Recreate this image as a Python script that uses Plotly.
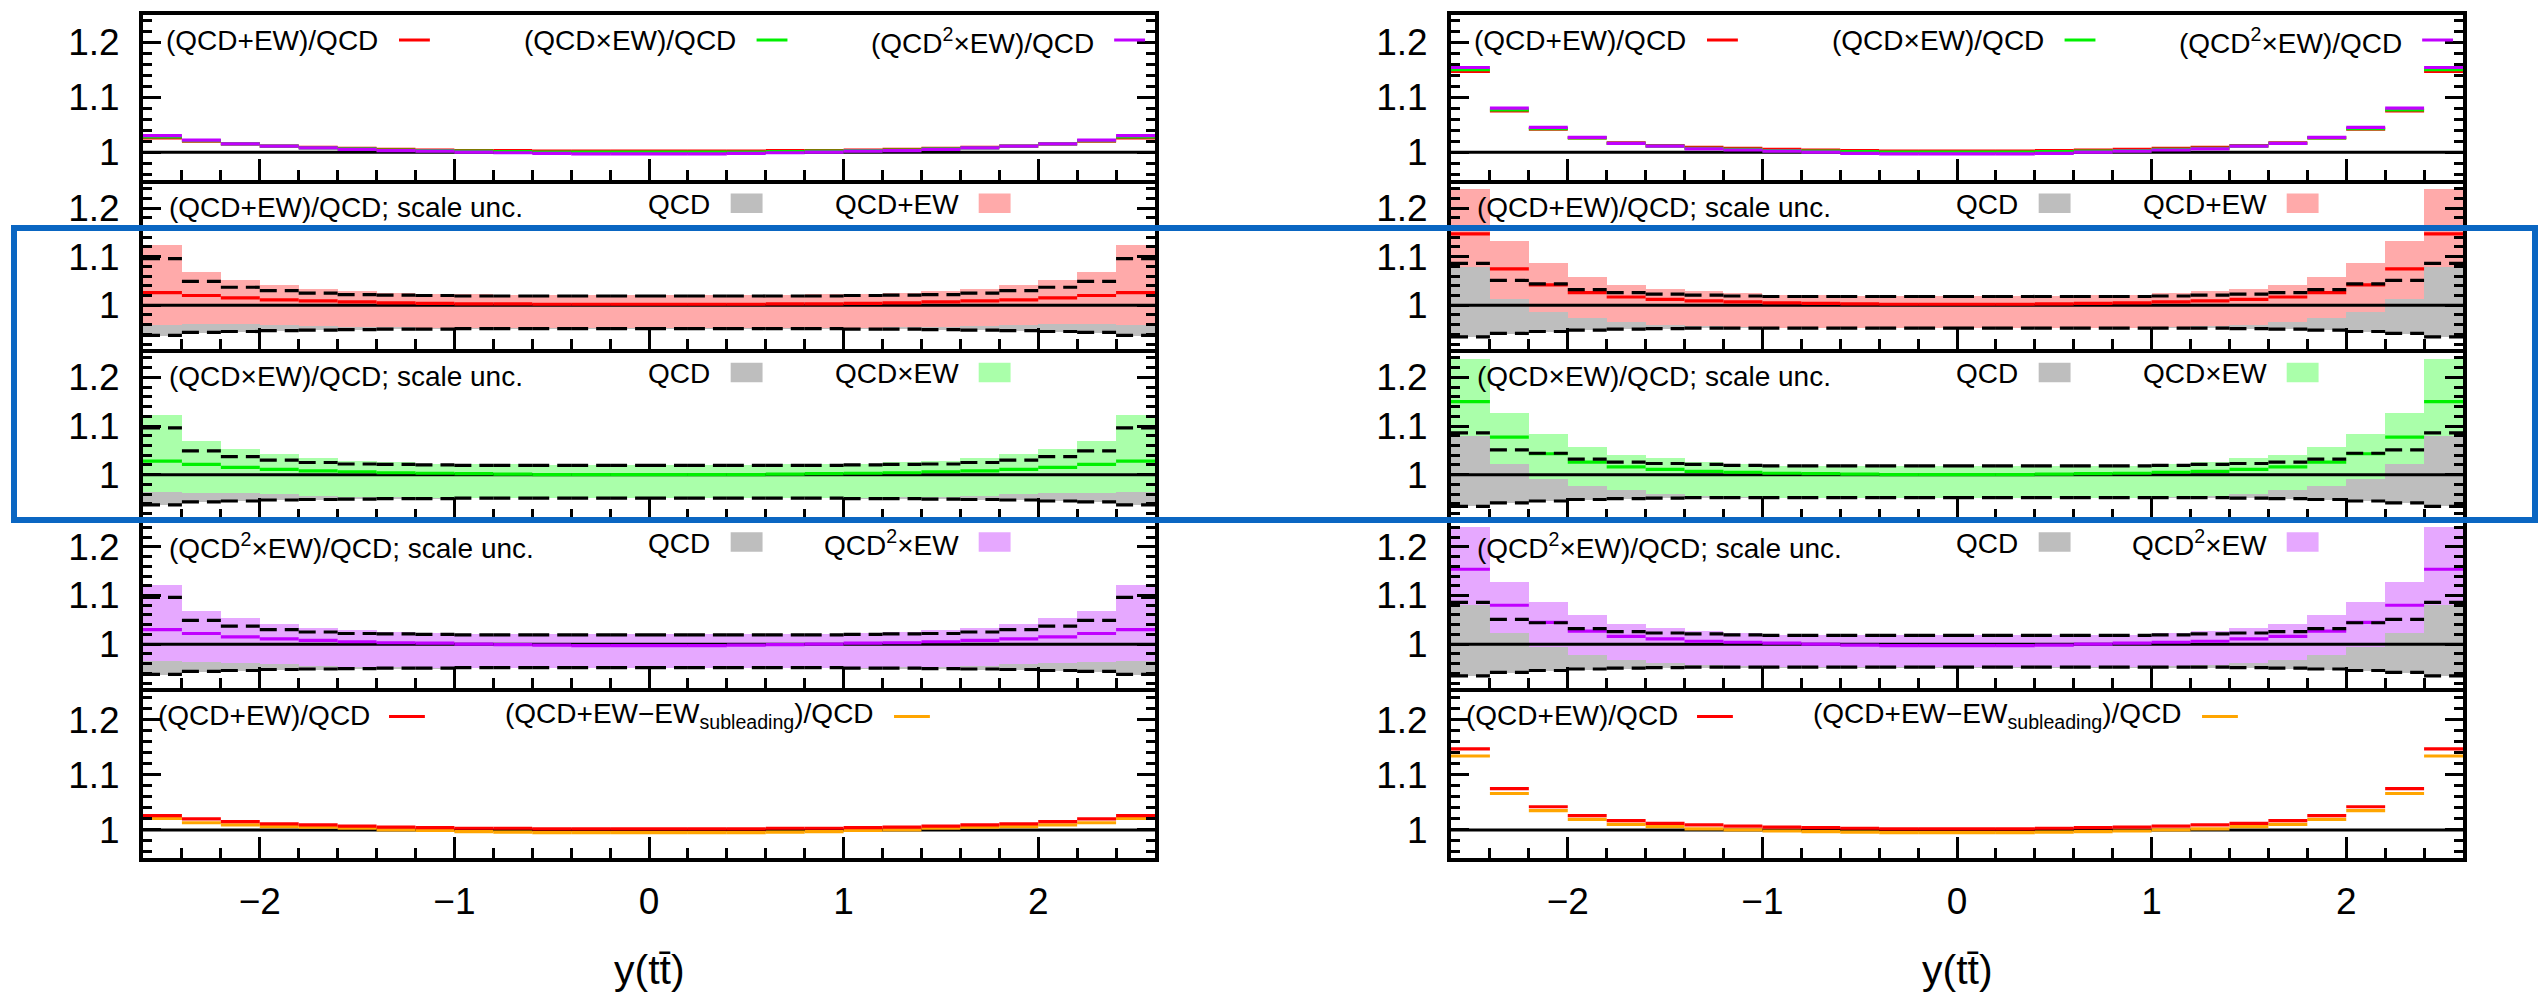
import plotly.graph_objects as go

W, H = 2542, 996
FONT = "Liberation Sans, Arial, Helvetica, sans-serif"

# ---------------- bins ----------------
EDGES = [-2.6, -2.4, -2.2, -2.0, -1.8, -1.6, -1.4, -1.2, -1.0, -0.8, -0.6, -0.4, -0.2,
         0.0, 0.2, 0.4, 0.6, 0.8, 1.0, 1.2, 1.4, 1.6, 1.8, 2.0, 2.2, 2.4, 2.6]
CENTERS = [-2.5, -2.3, -2.1, -1.9, -1.7, -1.5, -1.3, -1.1, -0.9, -0.7, -0.5, -0.3, -0.1,
           0.1, 0.3, 0.5, 0.7, 0.9, 1.1, 1.3, 1.5, 1.7, 1.9, 2.1, 2.3, 2.5]
X_RANGE = [-2.6, 2.6]
X_TITLE = "y(tt\u0304)"

# ---------------- left column ----------------
A_RED = [1.026, 1.020, 1.015, 1.011, 1.009, 1.007, 1.005, 1.004, 1.003, 1.003, 1.002, 1.002, 1.002,
         1.002, 1.002, 1.002, 1.003, 1.003, 1.004, 1.005, 1.007, 1.009, 1.011, 1.015, 1.020, 1.026]
A_GREEN = [1.028, 1.021, 1.015, 1.011, 1.008, 1.006, 1.004, 1.003, 1.002, 1.001, 1.000, 1.000, 1.000,
           1.000, 1.000, 1.000, 1.001, 1.002, 1.003, 1.004, 1.006, 1.008, 1.011, 1.015, 1.021, 1.028]
A_PURPLE = [1.030, 1.022, 1.015, 1.011, 1.008, 1.005, 1.003, 1.002, 1.000, 0.999, 0.998, 0.997, 0.997,
            0.997, 0.997, 0.998, 0.999, 1.000, 1.002, 1.003, 1.005, 1.008, 1.011, 1.015, 1.022, 1.030]
A_ORANGE = [1.021, 1.013, 1.009, 1.006, 1.005, 1.003, 1.000, 0.999, 0.997, 0.996, 0.995, 0.995, 0.995,
            0.995, 0.995, 0.995, 0.996, 0.997, 0.999, 1.000, 1.003, 1.005, 1.006, 1.009, 1.013, 1.021]
A_QCD_UP = [1.096, 1.049, 1.037, 1.030, 1.025, 1.022, 1.021, 1.020, 1.019, 1.019, 1.019, 1.019, 1.019,
            1.019, 1.019, 1.019, 1.019, 1.019, 1.020, 1.021, 1.022, 1.025, 1.030, 1.037, 1.049, 1.096]
A_QCD_DN = [0.938, 0.944, 0.946, 0.948, 0.949, 0.950, 0.951, 0.951, 0.952, 0.952, 0.952, 0.952, 0.952,
            0.952, 0.952, 0.952, 0.952, 0.952, 0.951, 0.951, 0.950, 0.949, 0.948, 0.946, 0.944, 0.938]
A_ADD_UP = [1.125, 1.070, 1.052, 1.042, 1.034, 1.029, 1.026, 1.024, 1.023, 1.022, 1.021, 1.021, 1.021,
            1.021, 1.021, 1.021, 1.022, 1.023, 1.024, 1.026, 1.029, 1.034, 1.042, 1.052, 1.070, 1.125]
A_ADD_DN = [0.960, 0.963, 0.963, 0.961, 0.958, 0.956, 0.955, 0.954, 0.953, 0.953, 0.953, 0.953, 0.953,
            0.953, 0.953, 0.953, 0.953, 0.953, 0.954, 0.955, 0.956, 0.958, 0.961, 0.963, 0.963, 0.960]
A_MUL_UP = [1.123, 1.069, 1.052, 1.042, 1.034, 1.029, 1.026, 1.023, 1.022, 1.021, 1.020, 1.020, 1.020,
            1.020, 1.020, 1.020, 1.021, 1.022, 1.023, 1.026, 1.029, 1.034, 1.042, 1.052, 1.069, 1.123]
A_MUL_DN = [0.965, 0.963, 0.962, 0.960, 0.957, 0.955, 0.954, 0.953, 0.952, 0.952, 0.952, 0.952, 0.952,
            0.952, 0.952, 0.952, 0.952, 0.952, 0.953, 0.954, 0.955, 0.957, 0.960, 0.962, 0.963, 0.965]
A_SQ_UP = [1.123, 1.070, 1.054, 1.042, 1.035, 1.030, 1.027, 1.024, 1.023, 1.022, 1.021, 1.021, 1.021,
           1.021, 1.021, 1.021, 1.022, 1.023, 1.024, 1.027, 1.030, 1.035, 1.042, 1.054, 1.070, 1.123]
A_SQ_DN = [0.966, 0.964, 0.963, 0.960, 0.957, 0.955, 0.954, 0.953, 0.952, 0.952, 0.952, 0.952, 0.952,
           0.952, 0.952, 0.952, 0.952, 0.952, 0.953, 0.954, 0.955, 0.957, 0.960, 0.963, 0.964, 0.966]

# ---------------- right column ----------------
B_RED = [1.147, 1.075, 1.042, 1.026, 1.017, 1.012, 1.009, 1.007, 1.005, 1.004, 1.003, 1.002, 1.002,
         1.002, 1.002, 1.003, 1.004, 1.005, 1.007, 1.009, 1.012, 1.017, 1.026, 1.042, 1.075, 1.147]
B_GREEN = [1.150, 1.077, 1.043, 1.026, 1.016, 1.011, 1.007, 1.005, 1.003, 1.002, 1.001, 1.000, 1.000,
           1.000, 1.000, 1.001, 1.002, 1.003, 1.005, 1.007, 1.011, 1.016, 1.026, 1.043, 1.077, 1.150]
B_PURPLE = [1.154, 1.080, 1.045, 1.027, 1.016, 1.011, 1.006, 1.004, 1.002, 1.000, 0.998, 0.997, 0.997,
            0.997, 0.997, 0.998, 1.000, 1.002, 1.004, 1.006, 1.011, 1.016, 1.027, 1.045, 1.080, 1.154]
B_ORANGE = [1.134, 1.066, 1.035, 1.019, 1.010, 1.006, 1.002, 1.000, 0.998, 0.997, 0.996, 0.995, 0.995,
            0.995, 0.995, 0.996, 0.997, 0.998, 1.000, 1.002, 1.006, 1.010, 1.019, 1.035, 1.066, 1.134]
B_QCD_UP = [1.086, 1.051, 1.044, 1.032, 1.026, 1.023, 1.021, 1.019, 1.018, 1.018, 1.018, 1.018, 1.018,
            1.018, 1.018, 1.018, 1.018, 1.018, 1.019, 1.021, 1.023, 1.026, 1.032, 1.044, 1.051, 1.086]
B_QCD_DN = [0.935, 0.942, 0.946, 0.949, 0.951, 0.952, 0.953, 0.953, 0.953, 0.953, 0.953, 0.953, 0.953,
            0.953, 0.953, 0.953, 0.953, 0.953, 0.953, 0.953, 0.952, 0.951, 0.949, 0.946, 0.942, 0.935]
B_ADD_UP = [1.240, 1.132, 1.088, 1.058, 1.042, 1.035, 1.030, 1.025, 1.022, 1.021, 1.020, 1.020, 1.020,
            1.020, 1.020, 1.020, 1.021, 1.022, 1.025, 1.030, 1.035, 1.042, 1.058, 1.088, 1.132, 1.240]
B_ADD_DN = [1.079, 1.013, 0.986, 0.974, 0.966, 0.961, 0.958, 0.956, 0.954, 0.954, 0.953, 0.953, 0.953,
            0.953, 0.953, 0.953, 0.954, 0.954, 0.956, 0.958, 0.961, 0.966, 0.974, 0.986, 1.013, 1.079]
B_MUL_UP = [1.238, 1.127, 1.084, 1.057, 1.041, 1.034, 1.027, 1.022, 1.018, 1.018, 1.017, 1.017, 1.017,
            1.017, 1.017, 1.017, 1.018, 1.018, 1.022, 1.027, 1.034, 1.041, 1.057, 1.084, 1.127, 1.238]
B_MUL_DN = [1.080, 1.022, 0.991, 0.976, 0.968, 0.961, 0.957, 0.954, 0.952, 0.952, 0.952, 0.952, 0.952,
            0.952, 0.952, 0.952, 0.952, 0.952, 0.954, 0.957, 0.961, 0.968, 0.976, 0.991, 1.022, 1.080]
B_SQ_UP = [1.242, 1.129, 1.088, 1.060, 1.043, 1.035, 1.029, 1.025, 1.020, 1.019, 1.019, 1.019, 1.019,
           1.019, 1.019, 1.019, 1.019, 1.020, 1.025, 1.029, 1.035, 1.043, 1.060, 1.088, 1.129, 1.242]
B_SQ_DN = [1.082, 1.025, 0.995, 0.978, 0.969, 0.962, 0.958, 0.956, 0.955, 0.955, 0.955, 0.955, 0.955,
           0.955, 0.955, 0.955, 0.955, 0.955, 0.956, 0.958, 0.962, 0.969, 0.978, 0.995, 1.025, 1.082]

COLUMNS = [
    dict(red=A_RED, green=A_GREEN, purple=A_PURPLE, orange=A_ORANGE,
         qup=A_QCD_UP, qdn=A_QCD_DN,
         bands=[(A_ADD_UP, A_ADD_DN, A_RED), (A_MUL_UP, A_MUL_DN, A_GREEN), (A_SQ_UP, A_SQ_DN, A_PURPLE)]),
    dict(red=B_RED, green=B_GREEN, purple=B_PURPLE, orange=B_ORANGE,
         qup=B_QCD_UP, qdn=B_QCD_DN,
         bands=[(B_ADD_UP, B_ADD_DN, B_RED), (B_MUL_UP, B_MUL_DN, B_GREEN), (B_SQ_UP, B_SQ_DN, B_PURPLE)]),
]

# ---------------- styling ----------------
C_RED, C_GREEN, C_PURPLE, C_ORANGE = "#ff0000", "#00f000", "#c000ff", "#ffa500"
BAND_COLORS = ["#ffaaaa", "#aaffaa", "#e6a8ff"]
LINE_COLORS = [C_RED, C_GREEN, C_PURPLE]
C_GRAY = "#bebebe"
C_BLUE = "#0a66c2"
DASH = "17px,8px"

FRAME_W = 4
HALF = FRAME_W / 2
# frame line centres in pixels
X_PIX = [(141, 1157), (1449, 2465)]
Y_PIX = [(12.7, 181.7), (181.7, 351.0), (351.0, 520.5), (520.5, 690.0), (690.0, 859.5)]
Y_RANGES = [[0.95, 1.25], [0.91, 1.25], [0.91, 1.25], [0.91, 1.25], [0.95, 1.25]]
PANEL_H = 169.5
PANEL_W = 1016.0


def seg_xy(vals):
    xs, ys = [], []
    for i, v in enumerate(vals):
        xs += [EDGES[i], EDGES[i + 1], None]
        ys += [v, v, None]
    return xs, ys


fig = go.Figure()
layout = dict(
    width=W, height=H, margin=dict(l=0, r=0, t=0, b=0),
    paper_bgcolor="white", plot_bgcolor="rgba(0,0,0,0)",
    showlegend=False, barmode="overlay", bargap=0,
    font=dict(family=FONT, color="black"),
)
annotations = []
shapes = []


def dom_x(px):
    return px / PANEL_W


def dom_y(off):
    return 1 - off / PANEL_H


for c, col in enumerate(COLUMNS):
    for p in range(5):
        k = c * 5 + p + 1
        xa = "x" if k == 1 else f"x{k}"
        ya = "y" if k == 1 else f"y{k}"
        xd = f"{xa} domain"
        yd = f"{ya} domain"

        def line_trace(vals, color, dash="solid", width=3.2):
            xs, ys = seg_xy(vals)
            return go.Scatter(x=xs, y=ys, mode="lines", xaxis=xa, yaxis=ya,
                              line=dict(color=color, width=width, dash=dash),
                              hoverinfo="skip", connectgaps=False)

        ref = go.Scatter(x=X_RANGE, y=[1, 1], mode="lines", xaxis=xa, yaxis=ya,
                         line=dict(color="black", width=3), hoverinfo="skip")

        if p == 0:
            fig.add_trace(ref)
            fig.add_trace(line_trace(col["red"], C_RED))
            fig.add_trace(line_trace(col["green"], C_GREEN))
            fig.add_trace(line_trace(col["purple"], C_PURPLE))
        elif p in (1, 2, 3):
            up, dn, cen = col["bands"][p - 1]
            fig.add_trace(go.Bar(x=CENTERS, y=[a - b for a, b in zip(col["qup"], col["qdn"])],
                                 base=col["qdn"], width=0.2, xaxis=xa, yaxis=ya,
                                 marker=dict(color=C_GRAY, line=dict(width=0)), hoverinfo="skip"))
            fig.add_trace(go.Bar(x=CENTERS, y=[a - b for a, b in zip(up, dn)],
                                 base=dn, width=0.2, xaxis=xa, yaxis=ya,
                                 marker=dict(color=BAND_COLORS[p - 1], line=dict(width=0)),
                                 hoverinfo="skip"))
            fig.add_trace(ref)
            fig.add_trace(line_trace(cen, LINE_COLORS[p - 1]))
            fig.add_trace(line_trace(col["qup"], "black", dash=DASH))
            fig.add_trace(line_trace(col["qdn"], "black", dash=DASH))
        else:
            fig.add_trace(ref)
            fig.add_trace(line_trace(col["orange"], C_ORANGE))
            fig.add_trace(line_trace(col["red"], C_RED))

        x0, x1 = X_PIX[c]
        yt, yb = Y_PIX[p]
        ix0, ix1 = x0 + HALF, x1 - HALF
        iyt, iyb = yt + HALF, yb - HALF
        layout[xa.replace("x", "xaxis")] = dict(
            domain=[ix0 / W, ix1 / W], range=X_RANGE, anchor=ya,
            showline=True, mirror=True, linecolor="black", linewidth=FRAME_W,
            ticks="inside", ticklen=21, tickwidth=3, tickcolor="black",
            tickmode="linear", tick0=0, dtick=1,
            showticklabels=(p == 4), ticklabelstandoff=8,
            tickfont=dict(size=37, color="black", family=FONT),
            minor=dict(tickmode="linear", tick0=0, dtick=0.2, ticks="inside",
                       ticklen=10, tickwidth=3, tickcolor="black", showgrid=False),
            showgrid=False, zeroline=False, fixedrange=True,
        )
        layout[ya.replace("y", "yaxis")] = dict(
            domain=[1 - iyb / H, 1 - iyt / H], range=Y_RANGES[p], anchor=xa,
            showline=True, mirror="ticks", linecolor="black", linewidth=FRAME_W,
            ticks="inside", ticklen=18, tickwidth=3, tickcolor="black",
            tickmode="linear", tick0=1, dtick=0.1, ticklabelstandoff=12,
            tickfont=dict(size=37, color="black", family=FONT),
            minor=dict(tickmode="linear", tick0=1, dtick=0.02, ticks="inside",
                       ticklen=9, tickwidth=3, tickcolor="black", showgrid=False),
            showgrid=False, zeroline=False, fixedrange=True,
        )

        def text(xpx, yoff, s, anchor):
            annotations.append(dict(x=dom_x(xpx), y=dom_y(yoff), xref=xd, yref=yd, text=s,
                                    showarrow=False, xanchor=anchor, yanchor="middle",
                                    font=dict(size=28, color="black", family=FONT)))

        def sample_line(xa_px, xb_px, yoff, color):
            shapes.append(dict(type="line", xref=xd, yref=yd, x0=dom_x(xa_px), x1=dom_x(xb_px),
                               y0=dom_y(yoff), y1=dom_y(yoff), line=dict(color=color, width=3)))

        def sample_box(xa_px, xb_px, yoff, color):
            shapes.append(dict(type="rect", xref=xd, yref=yd, x0=dom_x(xa_px), x1=dom_x(xb_px),
                               y0=dom_y(yoff + 10), y1=dom_y(yoff - 10), fillcolor=color,
                               line=dict(width=0)))

        if p == 0:
            ty = 27
            text(238, ty, "(QCD+EW)/QCD", "right")
            sample_line(257, 288, ty - 1, C_RED)
            text(597, ty, "(QCD×EW)/QCD", "right")
            sample_line(616, 647, ty - 1, C_GREEN)
            text(957, ty, "(QCD<sup>2</sup>×EW)/QCD", "right")
            sample_line(975, 1006, ty - 1, C_PURPLE)
        elif p in (1, 2, 3):
            names = ["(QCD+EW)/QCD; scale unc.", "(QCD×EW)/QCD; scale unc.",
                     "(QCD<sup>2</sup>×EW)/QCD; scale unc."]
            labs = ["QCD+EW", "QCD×EW", "QCD<sup>2</sup>×EW"]
            text(24, 24, names[p - 1], "left")
            text(571, 21, "QCD", "right")
            sample_box(590, 622, 20, C_GRAY)
            text(821, 21, labs[p - 1], "right")
            sample_box(839, 871, 20, BAND_COLORS[p - 1])
        else:
            ty = 24
            text(230, ty, "(QCD+EW)/QCD", "right")
            sample_line(247, 283, ty + 1, C_RED)
            text(736, ty, "(QCD+EW−EW<sub>subleading</sub>)/QCD", "right")
            sample_line(754, 790, ty + 1, C_ORANGE)

    # x title
    x0, x1 = X_PIX[c]
    annotations.append(dict(x=(x0 + x1) / 2 / W, y=1 - 970 / H, xref="paper", yref="paper",
                            text=X_TITLE, showarrow=False, xanchor="center", yanchor="middle",
                            font=dict(size=41, color="black", family=FONT)))

# blue highlight frame
shapes.append(dict(type="rect", xref="paper", yref="paper", x0=14 / W, x1=2535 / W,
                   y0=1 - 520 / H, y1=1 - 228 / H, line=dict(color=C_BLUE, width=6),
                   fillcolor="rgba(0,0,0,0)", layer="above"))

layout["annotations"] = annotations
layout["shapes"] = shapes
fig.update_layout(**layout)
fig.write_html("out.html")
